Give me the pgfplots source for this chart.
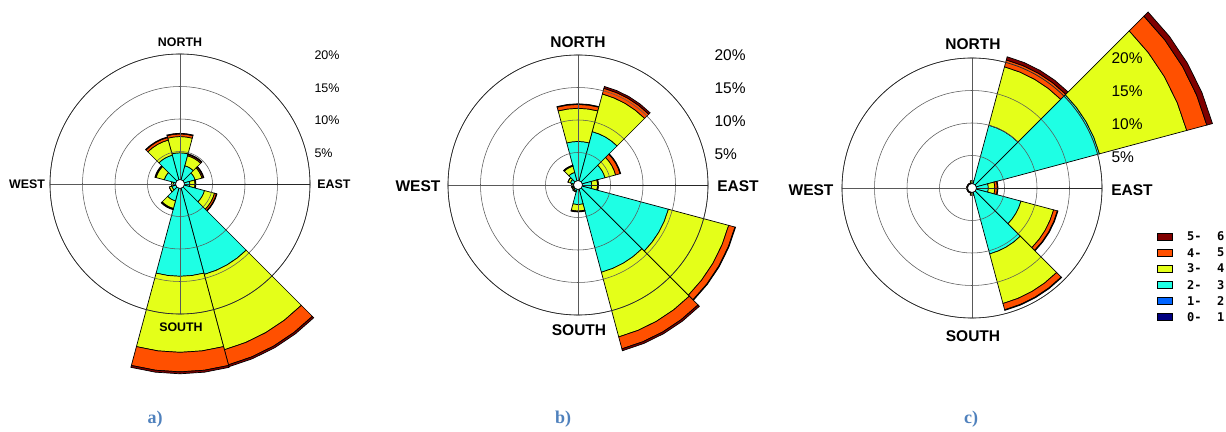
\documentclass[border=0pt]{standalone}
\usepackage{pgfplots}
\pgfplotsset{compat=1.18}
\usepgfplotslibrary{polar}
\usepackage{fontspec}
\setmainfont{Liberation Sans}
\newfontfamily\legfont{DejaVu Sans Mono}
\newfontfamily\capfont{Liberation Serif}
\definecolor{cy}{RGB}{30,255,228}
\definecolor{ye}{RGB}{228,255,25}
\definecolor{orr}{RGB}{255,80,0}
\definecolor{dr}{RGB}{128,0,0}
\definecolor{bl}{RGB}{0,100,255}
\definecolor{nv}{RGB}{0,0,128}
\definecolor{capc}{RGB}{79,129,189}

% one layer of a 30-degree sector: #1 bearing, #2 inner %, #3 outer %, #4 colour
\newcommand\sect[4]{%
  \pgfmathsetmacro\mA{90-#1}%
  \pgfmathsetmacro\aA{\mA-15}\pgfmathsetmacro\aB{\mA-7.5}%
  \pgfmathsetmacro\aC{\mA+7.5}\pgfmathsetmacro\aD{\mA+15}%
  \edef\tmp{\noexpand\addplot[draw=black,line width=0.7pt,fill=#4] coordinates
    {(\aA,#2) (\aA,#3) (\aB,#3) (\mA,#3) (\aC,#3) (\aD,#3) (\aD,#2) (\aC,#2) (\mA,#2) (\aB,#2)} -- cycle;}%
  \tmp}
% one direction: bearing, cumulative tops of classes 2-3, 3-4, 4-5, 5-6 (%)
\newcommand\rosedir[5]{\sect{#1}{0}{#2}{cy}\sect{#1}{#2}{#3}{ye}\sect{#1}{#3}{#4}{orr}\sect{#1}{#4}{#5}{dr}}

\pgfplotsset{rose/.style={width=260pt,height=260pt,scale only axis,anchor=origin,
  xmin=0,xmax=360,ymin=0,ymax=20,xtick={0,90,180,270},ytick={5,10,15,20},
  xticklabels={},yticklabels={},major tick length=0pt,grid=major,
  major grid style={black!65,line width=0.55pt},axis line style={black!85,line width=0.65pt},
  clip=false,axis on top}}

\begin{document}
\begin{tikzpicture}
\path[use as bounding box] (0,0) rectangle (1226pt,431pt);

% ---------------- a)
\begin{polaraxis}[rose,at={(180pt,247pt)}]
\rosedir{0}{4.8}{7.3}{7.7}{7.8}
\rosedir{30}{2.9}{4.5}{4.7}{4.8}
\rosedir{60}{2.4}{3.5}{3.7}{3.8}
\rosedir{90}{1.5}{2.3}{2.4}{2.45}
\rosedir{120}{3.9}{5.5}{5.8}{5.9}
\rosedir{150}{14.4}{26.4}{28.8}{29.1}
\rosedir{180}{14.2}{25.9}{28.9}{29.2}
\rosedir{210}{2.7}{3.9}{4.0}{4.1}
\rosedir{240}{1.3}{1.7}{1.7}{1.7}
\rosedir{270}{1.0}{1.3}{1.3}{1.3}
\rosedir{300}{2.5}{3.8}{3.9}{4.0}
\rosedir{330}{4.6}{7.0}{7.4}{7.5}
\coordinate (ca) at (axis cs:0,0);
\end{polaraxis}

% ---------------- b)
\begin{polaraxis}[rose,at={(578pt,246pt)}]
\rosedir{0}{6.7}{11.8}{12.4}{12.5}
\rosedir{30}{8.5}{14.5}{15.4}{15.7}
\rosedir{60}{4.3}{6.0}{6.7}{6.8}
\rosedir{90}{2.1}{3.0}{3.1}{3.15}
\rosedir{120}{14.4}{24.0}{25.0}{25.1}
\rosedir{150}{13.9}{24.2}{26.1}{26.4}
\rosedir{180}{3.0}{4.0}{4.1}{4.15}
\rosedir{210}{0.9}{1.1}{1.1}{1.1}
\rosedir{240}{0.8}{1.0}{1.0}{1.0}
\rosedir{270}{0.8}{1.0}{1.0}{1.0}
\rosedir{300}{1.2}{1.6}{1.6}{1.6}
\rosedir{330}{2.0}{3.0}{3.1}{3.15}
\coordinate (cb) at (axis cs:0,0);
\end{polaraxis}

% ---------------- c)
\begin{polaraxis}[rose,at={(972pt,243pt)}]
\rosedir{0}{0.8}{1.1}{1.1}{1.1}
\rosedir{30}{10.0}{19.3}{20.4}{20.9}
\rosedir{60}{20.3}{34.2}{37.4}{38.3}
\rosedir{90}{2.5}{3.5}{3.9}{4.0}
\rosedir{120}{7.8}{13.0}{13.6}{13.7}
\rosedir{150}{10.5}{18.4}{19.4}{19.5}
\rosedir{180}{0.8}{1.1}{1.1}{1.1}
\rosedir{210}{0.7}{0.8}{0.8}{0.8}
\rosedir{240}{0.7}{0.8}{0.8}{0.8}
\rosedir{270}{0.7}{0.8}{0.8}{0.8}
\rosedir{300}{0.7}{0.8}{0.8}{0.8}
\rosedir{330}{0.7}{0.8}{0.8}{0.8}
\coordinate (cc) at (axis cs:0,0);
\end{polaraxis}

% calm circles
\foreach \c in {ca,cb,cc}{\draw[fill=white,line width=0.7pt] (\c) circle (4.5pt);}

% direction labels
\begin{scope}[font=\fontsize{12.4}{14}\selectfont\bfseries]
\node at (180pt,389pt) {NORTH};
\node at (181pt,104pt) {SOUTH};
\node at (27pt,247pt) {WEST};
\node at (334pt,247pt) {EAST};
\end{scope}
\begin{scope}[font=\fontsize{15.5}{18}\selectfont\bfseries]
\node at (578pt,389pt) {NORTH};
\node at (579pt,101pt) {SOUTH};
\node at (418pt,245pt) {WEST};
\node at (738pt,245pt) {EAST};
\node at (973pt,387pt) {NORTH};
\node at (973pt,95pt) {SOUTH};
\node at (811pt,241pt) {WEST};
\node at (1132pt,241pt) {EAST};
\end{scope}
% ring labels
\begin{scope}[font=\fontsize{12.5}{14}\selectfont,anchor=west]
\node at (311pt,376pt) {20\%};
\node at (311pt,343pt) {15\%};
\node at (311pt,311pt) {10\%};
\node at (311pt,278pt) {5\%};
\end{scope}
\begin{scope}[font=\fontsize{15.5}{18}\selectfont,anchor=west]
\node at (711pt,376pt) {20\%};
\node at (711pt,343pt) {15\%};
\node at (711pt,310pt) {10\%};
\node at (711pt,277pt) {5\%};
\node at (1108pt,373pt) {20\%};
\node at (1108pt,340pt) {15\%};
\node at (1108pt,307pt) {10\%};
\node at (1108pt,274pt) {5\%};
\end{scope}

% legend
\foreach \y/\col/\lo/\hi in {194.5/dr/5/6,178.3/orr/4/5,162.5/ye/3/4,146/cy/2/3,130/bl/1/2,113.7/nv/0/1}{
  \draw[fill=\col,line width=0.6pt] (1157pt,\y pt-3.5pt) rectangle (1172pt,\y pt+3.5pt);
  \node[anchor=west,inner sep=0pt,font=\legfont\bfseries\fontsize{12}{14}\selectfont] at (1187pt,\y pt) {\lo-};
  \node[anchor=west,inner sep=0pt,font=\legfont\bfseries\fontsize{12}{14}\selectfont] at (1217pt,\y pt) {\hi};
}

% captions
\begin{scope}[font=\capfont\bfseries\fontsize{18}{20}\selectfont,text=capc]
\node at (155pt,12pt) {a)};
\node at (563pt,12pt) {b)};
\node at (971pt,12pt) {c)};
\end{scope}
\end{tikzpicture}
\end{document}
